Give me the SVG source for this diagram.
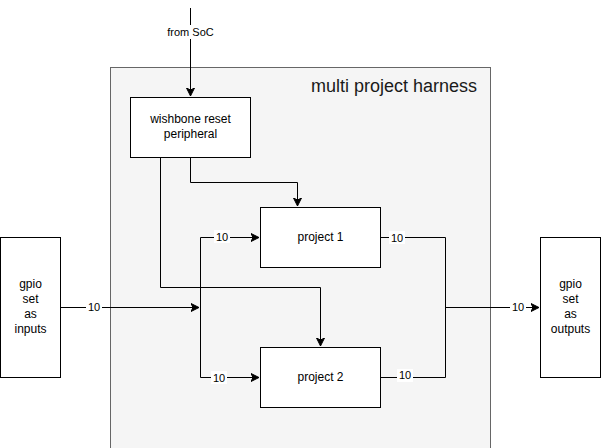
<svg xmlns="http://www.w3.org/2000/svg" width="601" height="448" viewBox="0 0 601 448">
<style>
.box{fill:#fff;stroke:#000;stroke-width:1}
.t{font-family:"Liberation Sans",Arial,sans-serif;font-size:12px;fill:#000;text-anchor:middle}
.l{font-family:"Liberation Sans",Arial,sans-serif;font-size:11px;fill:#000;text-anchor:middle}
.e{fill:none;stroke:#000;stroke-width:1}
.lb{fill:#fff}
</style>
<defs>
<marker id="a" markerWidth="10" markerHeight="10" refX="8" refY="5" orient="auto" markerUnits="userSpaceOnUse">
<path d="M0,1 L8,5 L0,9 L2,5 Z" fill="#000" stroke="#000" stroke-width="1"/>
</marker>
</defs>
<g id="harness">
<rect x="110.5" y="67.5" width="380" height="390" fill="#f5f5f5" stroke="#666"/>
<text x="477" y="92" font-family="Liberation Sans,Arial,sans-serif" font-size="18" text-anchor="end" fill="#1a1a1a">multi project harness</text>
</g>
<g id="connectors">
<path class="e" d="M190.5,8 V96" marker-end="url(#a)"/>
<rect class="lb" x="167" y="25" width="48" height="14"/>
<text class="l" x="190.5" y="36">from SoC</text>
<path class="e" d="M190.5,157 V182.5 H297.5 V206" marker-end="url(#a)"/>
<path class="e" d="M160.5,157 V287.5 H320.5 V346" marker-end="url(#a)"/>
<path class="e" d="M60,307.5 H199" marker-end="url(#a)"/>
<rect class="lb" x="86" y="300" width="16" height="13"/>
<text class="l" x="94" y="311">10</text>
<path class="e" d="M200.5,237.5 V377.5"/>
<path class="e" d="M200.5,237.5 H259" marker-end="url(#a)"/>
<rect class="lb" x="214" y="230" width="16" height="13"/>
<text class="l" x="222" y="241">10</text>
<path class="e" d="M200.5,377.5 H259" marker-end="url(#a)"/>
<rect class="lb" x="211" y="371" width="16" height="13"/>
<text class="l" x="219" y="382">10</text>
<path class="e" d="M380,237.5 H445.5 V377.5 H380"/>
<rect class="lb" x="389" y="231" width="16" height="13"/>
<text class="l" x="397" y="242">10</text>
<rect class="lb" x="397" y="369" width="16" height="13"/>
<text class="l" x="405" y="379">10</text>
<path class="e" d="M445.5,307.5 H539" marker-end="url(#a)"/>
<rect class="lb" x="510" y="300" width="16" height="13"/>
<text class="l" x="518" y="311">10</text>
</g>
<g id="wishbone">
<rect class="box" x="130.5" y="97.5" width="120" height="60"/>
<text class="t" x="190.5" y="123">wishbone reset</text>
<text class="t" x="190.5" y="138">peripheral</text>
</g>
<g id="project1">
<rect class="box" x="260.5" y="207.5" width="120" height="60"/>
<text class="t" x="320.5" y="241">project 1</text>
</g>
<g id="project2">
<rect class="box" x="260.5" y="347.5" width="120" height="60"/>
<text class="t" x="320.5" y="381">project 2</text>
</g>
<g id="gpio_in">
<rect class="box" x="0.5" y="237.5" width="60" height="140"/>
<text class="t" x="30.5" y="288">gpio</text>
<text class="t" x="30.5" y="303">set</text>
<text class="t" x="30.5" y="318">as</text>
<text class="t" x="30.5" y="333">inputs</text>
</g>
<g id="gpio_out">
<rect class="box" x="540.5" y="237.5" width="60" height="140"/>
<text class="t" x="570.5" y="288">gpio</text>
<text class="t" x="570.5" y="303">set</text>
<text class="t" x="570.5" y="318">as</text>
<text class="t" x="570.5" y="333">outputs</text>
</g>
</svg>
